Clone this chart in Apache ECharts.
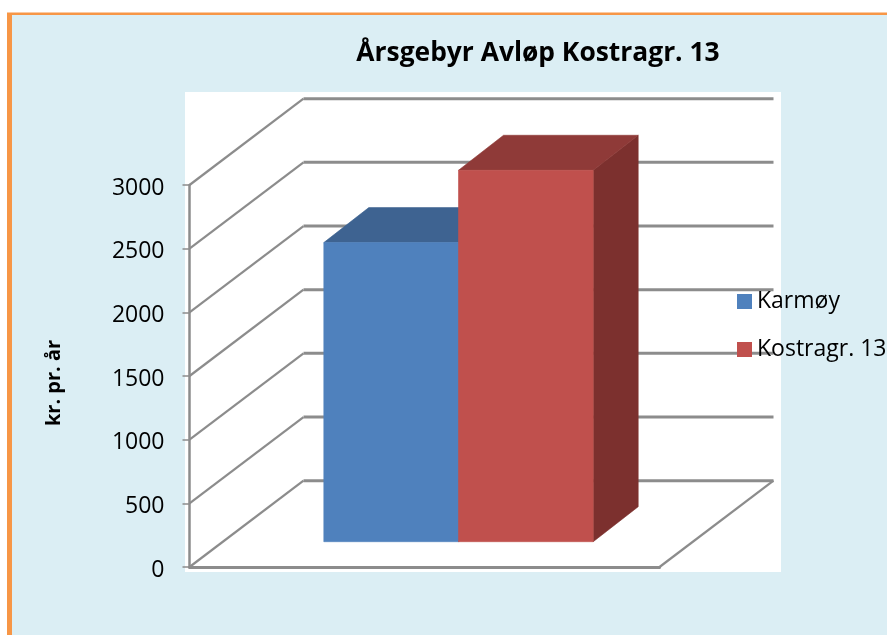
<!DOCTYPE html>
<html>
<head>
<meta charset="utf-8">
<style>
  html, body { margin: 0; padding: 0; background: #fff; overflow: hidden; }
  #main { width: 887px; height: 635px; }
</style>
<script src="https://cdn.jsdelivr.net/npm/echarts@6/dist/echarts.min.js"></script>
</head>
<body>
<div id="main"></div>
<script>
const categories = ['']
const karmoy = [2349]
const kostragr = [2917]
const yTicks = [0, 500, 1000, 1500, 2000, 2500, 3000]

const FONT = '"Open Sans", sans-serif'
const GRID_COLOR = '#8c8c8c'
// 3d look: how far the back wall sits behind the front plane, in pixels
const WALL_DX = 114
const WALL_DY = 86.3
const BAR_SHIFT_DX = 34
const BAR_SHIFT_DY = 25.3
const BAR_DX = 45
const BAR_DY = 35
const BAR_WIDTH = 0.2866

function wallLines(params, api) {
  const y = api.value(0)
  const center = api.coord([0, y])
  const band = api.size([1, 0])[0]
  const left = [center[0] - band / 2, center[1]]
  const backLeft = [left[0] + WALL_DX, left[1] - WALL_DY]
  const backRight = [backLeft[0] + band, backLeft[1]]
  const children = [
    {
      type: 'polyline',
      shape: { points: [left, backLeft] },
      style: { stroke: GRID_COLOR, lineWidth: 2.2, fill: 'none' }
    },
    {
      type: 'polyline',
      shape: { points: [backLeft, backRight] },
      style: { stroke: GRID_COLOR, lineWidth: 3, fill: 'none' }
    }
  ]
  if (y === 0) {
    children.push({
      type: 'polyline',
      shape: { points: [[left[0] + band, left[1]], backRight] },
      style: { stroke: GRID_COLOR, lineWidth: 2.2, fill: 'none' }
    })
  }
  return { type: 'group', children }
}

function poly(points, fill) {
  return {
    type: 'polygon',
    shape: { points },
    style: { fill, stroke: fill, lineWidth: 0.6 }
  }
}

// slot -1 sits left of the category centre, slot 0 right of it
function bar3d(slot, front, top, side) {
  return (params, api) => {
    const i = api.value(0)
    const base = api.coord([i, 0])
    const head = api.coord([i, api.value(1)])
    const w = api.size([1, 0])[0] * BAR_WIDTH
    const x0 = base[0] + slot * w + BAR_SHIFT_DX
    const x1 = x0 + w
    const y0 = base[1] - BAR_SHIFT_DY
    const y1 = head[1] - BAR_SHIFT_DY
    return {
      type: 'group',
      children: [
        poly([[x1, y0], [x1 + BAR_DX, y0 - BAR_DY], [x1 + BAR_DX, y1 - BAR_DY], [x1, y1]], side),
        poly([[x0, y1], [x0 + BAR_DX, y1 - BAR_DY], [x1 + BAR_DX, y1 - BAR_DY], [x1, y1]], top),
        poly([[x0, y0], [x1, y0], [x1, y1], [x0, y1]], front)
      ]
    }
  }
}

const chart = echarts.init(document.getElementById('main'), null, { renderer: 'canvas' })

chart.setOption({
  animation: false,
  graphic: [
    { type: 'rect', z: -10, shape: { x: 7, y: 12.5, width: 880, height: 622.5 }, style: { fill: '#f79646' } },
    { type: 'rect', z: -9, shape: { x: 12, y: 15, width: 875, height: 620 }, style: { fill: '#dbeef4' } },
    { type: 'rect', z: -8, shape: { x: 185, y: 92, width: 596, height: 480 }, style: { fill: '#ffffff' } }
  ],
  title: {
    text: 'Årsgebyr Avløp Kostragr. 13',
    left: 533,
    top: 35,
    textAlign: 'center',
    textStyle: { fontFamily: FONT, fontSize: 26.4, fontWeight: 'bold', color: '#000' }
  },
  legend: {
    data: ['Karmøy', 'Kostragr. 13'],
    orient: 'vertical',
    left: 737,
    top: 290,
    padding: 0,
    itemWidth: 15,
    itemHeight: 15,
    itemGap: 25,
    icon: 'rect',
    textStyle: { fontFamily: FONT, fontSize: 23, color: '#000' }
  },
  grid: { left: 189.5, right: 227.5, top: 185, bottom: 68 },
  xAxis: {
    type: 'category',
    data: categories,
    axisLine: { lineStyle: { color: GRID_COLOR, width: 3 } },
    axisTick: { show: false },
    axisLabel: { show: false }
  },
  yAxis: {
    type: 'value',
    min: 0,
    max: 3000,
    interval: 500,
    name: 'kr. pr. år',
    nameLocation: 'middle',
    nameGap: 125,
    nameTextStyle: { fontFamily: FONT, fontSize: 20, fontWeight: 'bold', color: '#000', padding: [0, 14, 0, 0] },
    axisLine: { show: true, lineStyle: { color: GRID_COLOR, width: 2.5 } },
    axisTick: { show: true, length: 7, lineStyle: { color: GRID_COLOR, width: 1.5 } },
    // labels sit a little under their ticks in the original
    axisLabel: { margin: 25, fontFamily: FONT, fontSize: 23, color: '#000', verticalAlign: 'top', lineHeight: 6, formatter: v => String(v) },
    splitLine: { show: false }
  },
  series: [
    {
      name: 'walls',
      type: 'custom',
      z: 1,
      coordinateSystem: 'cartesian2d',
      renderItem: wallLines,
      encode: { y: 0 },
      data: yTicks.map(v => [v])
    },
    {
      name: 'Karmøy',
      type: 'custom',
      z: 3,
      itemStyle: { color: '#4f81bd' },
      renderItem: bar3d(-1, '#4f81bd', '#3e6391', '#3a5c87'),
      encode: { x: 0, y: 1 },
      data: karmoy.map((v, i) => [i, v])
    },
    {
      name: 'Kostragr. 13',
      type: 'custom',
      z: 4,
      itemStyle: { color: '#c0504d' },
      renderItem: bar3d(0, '#c0504d', '#8f3a38', '#7c302e'),
      encode: { x: 0, y: 1 },
      data: kostragr.map((v, i) => [i, v])
    }
  ]
})
</script>
</body>
</html>
